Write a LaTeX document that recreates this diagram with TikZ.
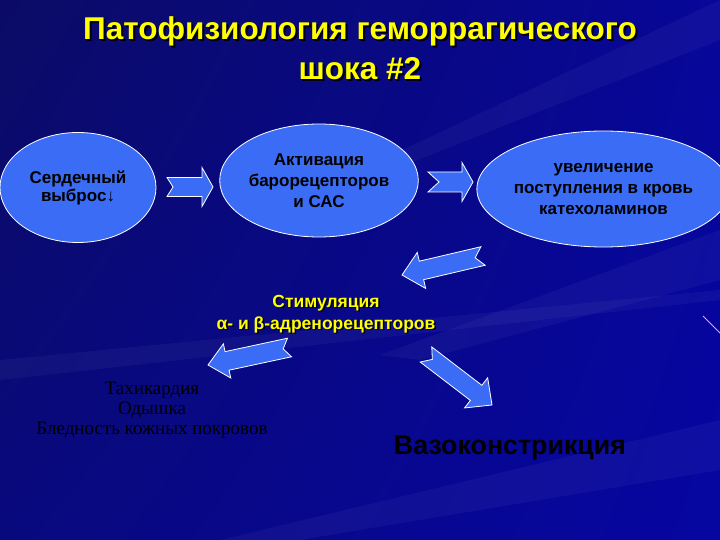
\documentclass[tikz,border=0pt]{standalone}
\usepackage{fontspec}
\setmainfont{Liberation Sans}
\newfontfamily\serifrm{Liberation Serif}
\usetikzlibrary{calc,shapes.geometric,shadings}
\definecolor{bgdark}{HTML}{0B0B66}
\definecolor{bgmid}{HTML}{0606A2}
\definecolor{ovalblue}{HTML}{3A6CF6}
\definecolor{ttl}{HTML}{FFFF00}
\definecolor{stray}{HTML}{E6A6E6}
% block arrow with notched tail: tail, tip, shaft half, head half, head length, notch
\newcommand{\notcharr}[6]{%
  \coordinate (hb) at ($(#2)!#5!(#1)$);
  \draw[barr] ($(#1)!#3!90:(#2)$) -- ($(hb)!#3!90:(#2)$) -- ($(hb)!#4!90:(#2)$) -- (#2)
    -- ($(hb)!#4!-90:(#2)$) -- ($(hb)!#3!-90:(#2)$) -- ($(#1)!#3!-90:(#2)$)
    -- ($(#1)!#6!(#2)$) -- cycle;}
\tikzset{
  oval/.style={ellipse,draw=white,line width=0.8pt,fill=ovalblue,inner sep=0pt,align=center,
    font=\bfseries\fontsize{17}{21}\selectfont},
  barr/.style={draw=white,line width=0.8pt,fill=ovalblue,line join=miter},
  ttltxt/.style={align=center,font=\bfseries\fontsize{31.5}{40}\selectfont},
  ytxt/.style={align=center,font=\bfseries\fontsize{17.5}{22}\selectfont},
  streak/.style={fill=white,opacity=0.04,draw=none},
}

\begin{document}
\begin{tikzpicture}[x=1pt,y=-1pt]
\useasboundingbox (0,0) rectangle (720,540);
\shade[upper left=bgdark,upper right=bgmid!85!bgdark,lower left=bgdark!60!bgmid,lower right=bgmid]
  (0,0) rectangle (720,540);
\fill[streak] (720,0) -- (720,40) -- (380,175) -- (360,170) -- cycle;
\fill[streak] (720,230) -- (720,280) -- (420,360) -- (380,355) -- cycle;
\fill[streak] (720,420) -- (720,470) -- (300,540) -- (220,540) -- cycle;
\fill[streak] (0,360) -- (0,380) -- (720,300) -- (720,290) -- cycle;
\draw[stray,line width=1pt] (703,316) -- (720,333);

\node[ttltxt,text=black] (titlesh) at (362,50) {Патофизиология геморрагического\\шока \#2};
\node[ttltxt,text=ttl] (title) at (360,48) {Патофизиология геморрагического\\шока \#2};

\node[oval,minimum width=156,minimum height=110,font=\bfseries\fontsize{17}{18}\selectfont] (sv) at (78,187.5) {Сердечный\\выброс↓};
\node[oval,minimum width=192,minimum height=113] (baro) at (319,180.5) {Активация\\барорецепторов\\и САС};
\node[oval,minimum width=231,minimum height=116] (cat) at (603.5,189) {увеличение\\поступления в кровь\\катехоламинов};

\node[ytxt,text=black] (stimsh) at (327.5,315.5) {Стимуляция\\α- и β-адренорецепторов};
\node[ytxt,text=ttl] (stim) at (326,314) {Стимуляция\\α- и β-адренорецепторов};
\node[align=center,font=\serifrm\fontsize{19}{20}\selectfont] (symp) at (152,410) {Тахикардия\\Одышка\\Бледность кожных покровов};
\node[font=\bfseries\fontsize{26.8}{30}\selectfont] (vaso) at (510,448) {Вазоконстрикция};

\coordinate (a1t) at (167,187); \coordinate (a1h) at (213,187);
\coordinate (a2t) at (428,182); \coordinate (a2h) at (473,182);
\coordinate (a3t) at (483,256); \coordinate (a3h) at (402,275);
\coordinate (a4t) at (289.5,347.5); \coordinate (a4h) at (208,365);
\coordinate (a5t) at (426,354.5); \coordinate (a5h) at (492,405);
\notcharr{a1t}{a1h}{9.5pt}{19.5pt}{11pt}{6pt}
\notcharr{a2t}{a2h}{10pt}{19.5pt}{11pt}{11pt}
\notcharr{a3t}{a3h}{9.5pt}{18.5pt}{20pt}{8pt}
\notcharr{a4t}{a4h}{9.5pt}{17.5pt}{19.5pt}{6.5pt}
\notcharr{a5t}{a5h}{9.5pt}{19pt}{20pt}{8pt}
\end{tikzpicture}
\end{document}
